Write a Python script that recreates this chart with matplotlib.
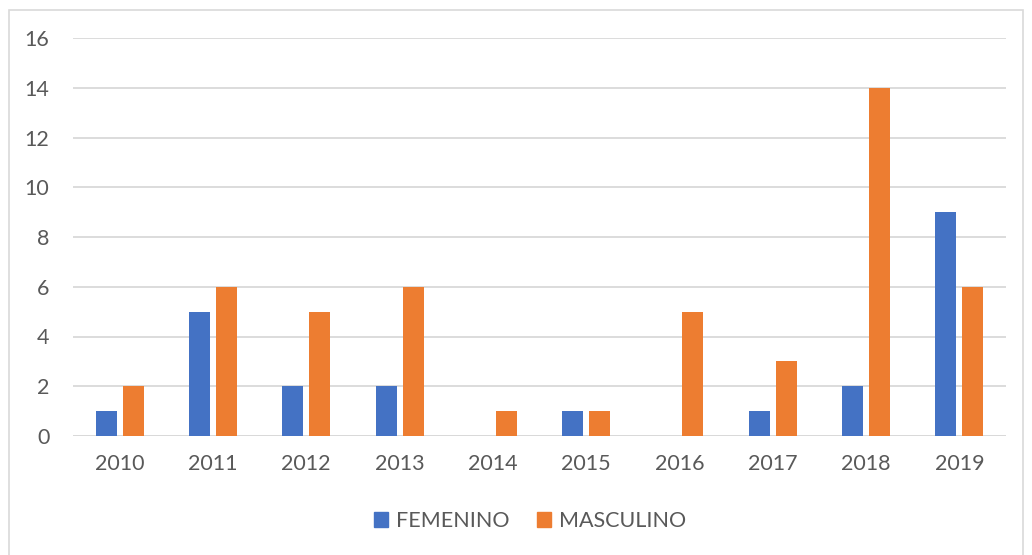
import matplotlib
matplotlib.use("Agg")
import matplotlib.pyplot as plt
from matplotlib.patches import Rectangle, Patch

years = ["2010", "2011", "2012", "2013", "2014", "2015", "2016", "2017", "2018", "2019"]
femenino = [1, 5, 2, 2, 0, 1, 0, 1, 2, 9]
masculino = [2, 6, 5, 6, 1, 1, 5, 3, 14, 6]
y_ticks = [0, 2, 4, 6, 8, 10, 12, 14, 16]

BLUE = "#4472C4"
ORANGE = "#ED7D31"
TEXT = "#595959"
GRID = "#D9D9D9"

plt.rcParams["font.family"] = ["Lato", "DejaVu Sans"]

fig = plt.figure(figsize=(10.32, 5.55), dpi=100)
ax = fig.add_axes([73 / 1032, 1 - 436 / 555, (1006 - 73) / 1032, (436 - 38) / 555])

# chart-area frame
fig.patches.append(Rectangle((8.5 / 1032, -0.05), (1023 - 8.5) / 1032, 1.05 - 9.5 / 555,
                             transform=fig.transFigure, fill=False,
                             edgecolor=GRID, linewidth=1.2))

x = list(range(len(years)))
w = 0.225
off = 0.145
ax.bar([i - off for i in x], femenino, width=w, color=BLUE, zorder=3)
ax.bar([i + off for i in x], masculino, width=w, color=ORANGE, zorder=3)

ax.set_xlim(-0.5, len(years) - 0.5)
ax.set_ylim(0, 16)
ax.set_yticks(y_ticks)
ax.set_xticks(x)
ax.set_xticklabels(years)
ax.yaxis.grid(True, color=GRID, linewidth=1.3, zorder=0)
for s in ax.spines.values():
    s.set_visible(False)
ax.axhline(0, color=GRID, linewidth=1.3, zorder=2)
ax.tick_params(axis="both", length=0, labelsize=15.5, labelcolor=TEXT)
ax.tick_params(axis="y", pad=17)
ax.tick_params(axis="x", pad=13)

handles = [Patch(color=BLUE, label="FEMENINO"), Patch(color=ORANGE, label="MASCULINO")]
fig.legend(handles=handles, loc="center", bbox_to_anchor=(530 / 1032, 1 - 521 / 555),
           ncol=2, frameon=False, fontsize=15.5, labelcolor=TEXT,
           handlelength=0.65, handleheight=0.65, handletextpad=0.35, columnspacing=1.3)

fig.savefig("out.png", dpi=100)
